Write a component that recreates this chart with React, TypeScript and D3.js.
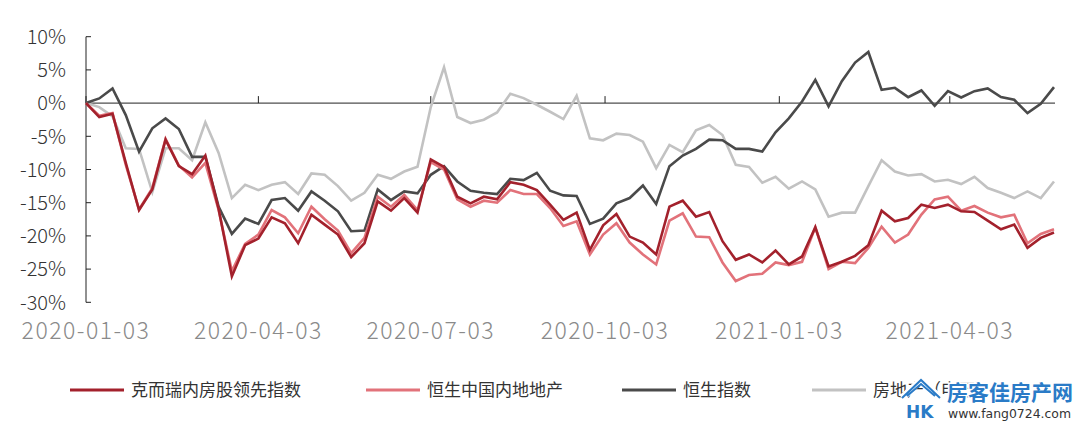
import React from "react";
import * as d3 from "d3";

const startDate = new Date(Date.UTC(2020, 0, 3));
const weekCount = 74;
const dates: Date[] = d3.range(weekCount).map((i) => d3.utcDay.offset(startDate, i * 7));

const tickDates: Date[] = [
  new Date(Date.UTC(2020, 0, 3)),
  new Date(Date.UTC(2020, 3, 3)),
  new Date(Date.UTC(2020, 6, 3)),
  new Date(Date.UTC(2020, 9, 3)),
  new Date(Date.UTC(2021, 0, 3)),
  new Date(Date.UTC(2021, 3, 3)),
];
const yTicks: number[] = [10, 5, 0, -5, -10, -15, -20, -25, -30];

const seriesNames = ["克而瑞内房股领先指数", "恒生中国内地地产", "恒生指数", "房地产（申万）"];
const seriesColors = ["#a3212c", "#e2727a", "#4a4a4a", "#c2c2c2"];

const criLeading: number[] = [
  0, -2.1, -1.6, -9.0, -16.1, -13.0, -5.5, -9.5, -10.7, -7.9,
  -15.9, -26.1, -21.4, -20.4, -17.2, -18.1, -21.1, -16.8, -18.3, -19.8,
  -23.2, -21.1, -14.8, -16.2, -14.3, -16.5, -8.5, -9.6, -14.1, -15.1,
  -14.1, -14.5, -11.9, -12.3, -13.1, -15.3, -17.6, -16.5, -22.1, -18.4,
  -16.7, -20.1, -21.0, -22.8, -15.6, -14.7, -17.1, -16.4, -20.8, -23.6,
  -22.8, -24.0, -22.2, -24.3, -23.1, -18.7, -24.6, -23.9, -23.0, -21.4,
  -16.2, -17.8, -17.3, -15.3, -15.8, -15.3, -16.3, -16.4, -17.7, -19.0,
  -18.3, -21.8, -20.3, -19.5,
];
const hsMainlandProp: number[] = [
  0, -1.9, -1.5, -9.3, -16.0, -12.8, -5.4, -9.4, -11.2, -9.0,
  -16.1, -25.3, -21.2, -19.8, -16.1, -17.2, -19.6, -15.6, -17.5, -19.2,
  -22.6, -20.3, -14.1, -15.6, -13.8, -16.1, -8.9, -10.0, -14.5, -15.6,
  -14.7, -15.0, -13.1, -13.7, -13.7, -15.8, -18.5, -17.8, -22.8, -19.8,
  -18.1, -21.0, -22.8, -24.3, -17.7, -16.6, -20.1, -20.2, -24.0, -26.8,
  -25.9, -25.7, -24.0, -24.4, -23.9, -18.7, -25.0, -23.9, -24.1, -21.8,
  -18.6, -21.0, -19.8, -16.8, -14.5, -14.1, -16.2, -15.5, -16.5, -17.2,
  -16.8, -21.1, -19.7, -19.0,
];
const hsIndex: number[] = [
  0, 0.7, 2.2, -1.8, -7.3, -3.8, -2.3, -3.9, -8.1, -8.1,
  -15.6, -19.7, -17.4, -18.2, -14.6, -14.3, -16.2, -13.3, -14.7, -16.3,
  -19.3, -19.2, -13.0, -14.6, -13.3, -13.6, -10.8, -9.5, -11.8, -13.2,
  -13.5, -13.7, -11.4, -11.6, -10.5, -13.2, -13.9, -14.0, -18.2, -17.4,
  -15.1, -14.3, -12.4, -15.2, -9.5, -7.9, -6.9, -5.5, -5.6, -6.9,
  -6.9, -7.3, -4.4, -2.3, 0.25, 3.5, -0.5, 3.3, 6.1, 7.7,
  2.0, 2.3, 0.9, 1.9, -0.4, 1.8, 0.85, 1.8, 2.2, 0.9,
  0.5, -1.5, -0.1, 2.4,
];
const swRealEstate: number[] = [
  0, -0.6, -2.0, -6.8, -6.9, -13.4, -6.8, -6.8, -8.6, -2.9,
  -7.5, -14.3, -12.3, -13.1, -12.3, -11.9, -13.7, -10.6, -10.8, -12.5,
  -14.7, -13.5, -10.8, -11.4, -10.3, -9.6, -0.6, 5.4, -2.1, -3.0,
  -2.5, -1.4, 1.4, 0.75, -0.25, -1.3, -2.4, 1.1, -5.3, -5.6,
  -4.6, -4.8, -5.8, -9.8, -6.3, -7.4, -4.1, -3.3, -4.8, -9.3,
  -9.6, -12.0, -11.1, -12.9, -11.8, -13.0, -17.1, -16.5, -16.5, -12.5,
  -8.6, -10.3, -10.9, -10.7, -11.8, -11.55, -12.2, -11.1, -12.8, -13.5,
  -14.3, -13.3, -14.3, -11.8,
];

const allSeries: number[][] = [criLeading, hsMainlandProp, hsIndex, swRealEstate];

const W = 1080;
const H = 426;
const legendX = [70, 366, 622, 812];

export default function App() {
  const x = d3.scaleUtc().domain([dates[0], dates[dates.length - 1]]).range([86, 1054]);
  const y = d3.scaleLinear().domain([-30, 10]).range([302.3, 36.7]);
  const line = d3
    .line<number>()
    .x((_, i) => x(dates[i]))
    .y((d) => y(d));
  const fmt = d3.utcFormat("%Y-%m-%d");
  const axisFont = "'Noto Sans CJK SC', 'Noto Sans', sans-serif";

  return (
    <svg
      width={W}
      height={H}
      style={{ position: "absolute", left: 0, top: 0, background: "#fff" }}
      fontFamily={axisFont}
    >
      <rect x={0} y={0} width={W} height={H} fill="#fff" />
      {/* y axis */}
      <line x1={86} x2={86} y1={y(10)} y2={y(-30)} stroke="#222" strokeWidth={1} />
      {yTicks.map((t) => (
        <g key={t}>
          <line x1={86} x2={91} y1={y(t)} y2={y(t)} stroke="#222" strokeWidth={1} />
          <text
            x={66}
            y={y(t)}
            dy="0.36em"
            textAnchor="end"
            fontSize={20}
            fontWeight={300}
            fill="#333"
          >
            {(t < 0 ? "-" + Math.abs(t) : String(t)) + "%"}
          </text>
        </g>
      ))}
      {/* x axis at zero */}
      <line x1={86} x2={1055} y1={y(0)} y2={y(0)} stroke="#222" strokeWidth={1} />
      {tickDates.map((d) => (
        <g key={d.getTime()}>
          <line x1={x(d)} x2={x(d)} y1={y(0)} y2={y(0) - 7} stroke="#222" strokeWidth={1} />
          <text
            x={x(d)}
            y={338.5}
            textAnchor="middle"
            fontSize={23}
            fontWeight={300}
            letterSpacing={1.5}
            fill="#8a8a8a"
          >
            {fmt(d)}
          </text>
        </g>
      ))}
      {/* lines, drawn back to front */}
      {[3, 2, 1, 0].map((k) => (
        <path
          key={k}
          d={line(allSeries[k]) || ""}
          fill="none"
          stroke={seriesColors[k]}
          strokeWidth={2.6}
          strokeLinejoin="miter"
        />
      ))}
      {/* legend */}
      {seriesNames.map((name, k) => (
        <g key={name}>
          <line
            x1={legendX[k]}
            x2={legendX[k] + 54}
            y1={390}
            y2={390}
            stroke={seriesColors[k]}
            strokeWidth={3}
          />
          <text x={legendX[k] + 61} y={390} dy="0.36em" fontSize={17} fill="#333">
            {name}
          </text>
        </g>
      ))}
      {/* watermark */}
      <g>
        <path
          d="M902,398 L921,380 L940,398"
          fill="none"
          stroke="#fff"
          strokeWidth={7}
          strokeLinejoin="round"
        />
        <path
          d="M902,398 L921,380 L940,398 M907,396 L921,384 L935,396"
          fill="none"
          stroke="#2a7bc7"
          strokeWidth={2}
        />
        <text x={906} y={418} fontSize={17} fontWeight={700} fill="#2a7bc7" fontFamily="'DejaVu Sans', sans-serif">
          HK
        </text>
        <text
          x={947}
          y={400}
          fontSize={21}
          fontWeight={700}
          fill="#2a7bc7"
          stroke="#fff"
          strokeWidth={3}
          paintOrder="stroke"
          textLength={126}
          lengthAdjust="spacingAndGlyphs"
          fontFamily="'Noto Sans CJK SC', sans-serif"
        >
          房客佳房产网
        </text>
        <text
          x={948}
          y={418}
          fontSize={12.5}
          fill="#333"
          textLength={123}
          lengthAdjust="spacingAndGlyphs"
          fontFamily="'DejaVu Sans', sans-serif"
        >
          www.fang0724.com
        </text>
      </g>
    </svg>
  );
}
